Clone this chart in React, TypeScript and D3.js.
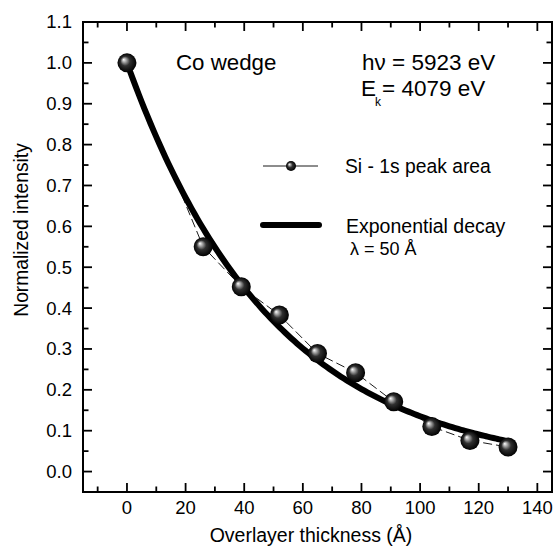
import React from "react";
import * as d3 from "d3";

const thickness = [0, 26, 39, 52, 65, 78, 91, 104, 117, 130];
const intensity = [1.0, 0.55, 0.452, 0.383, 0.289, 0.242, 0.171, 0.11, 0.076, 0.06];
const decayLength = 50;
const xTicks = [0, 20, 40, 60, 80, 100, 120, 140];
const yTicks = [0.0, 0.1, 0.2, 0.3, 0.4, 0.5, 0.6, 0.7, 0.8, 0.9, 1.0, 1.1];

const W = 556, H = 548;
const left = 83, right = 552, top = 22, bottom = 492;
const FONT = "Arial, 'Liberation Sans', Helvetica, sans-serif";

export default function App() {
  const x = d3.scaleLinear().domain([-15, 145]).range([left, right]);
  const y = d3.scaleLinear().domain([-0.05, 1.1]).range([bottom, top]);

  const curveX = d3.range(0, 130.01, 1);
  const curve = d3.line<number>().x((t) => x(t)).y((t) => y(Math.exp(-t / decayLength))).curve(d3.curveBasis)(curveX) || "";
  const dataLine = d3.line<number>().x((_, i) => x(thickness[i])).y((v) => y(v))(intensity) || "";

  const xMinor = d3.range(-10, 145, 10);
  const yMinor = d3.range(-0.05, 1.1001, 0.05).map((v) => Math.round(v * 100) / 100);

  const majorLen = 9, minorLen = 5.5;

  return (
    <svg width={W} height={H} style={{ position: "absolute", left: 0, top: 0, background: "#fff" }} fontFamily={FONT}>
      <defs>
        <radialGradient id="ball" cx="0.5" cy="0.5" r="0.5" fx="0.32" fy="0.32">
          <stop offset="0" stopColor="#ffffff" />
          <stop offset="0.15" stopColor="#c0c0c0" />
          <stop offset="0.5" stopColor="#303030" />
          <stop offset="1" stopColor="#000000" />
        </radialGradient>
      </defs>
      <rect x={0} y={0} width={W} height={H} fill="#fff" />

      {/* ticks */}
      {xMinor.map((t) => {
        const len = t % 20 === 0 ? majorLen : minorLen;
        return (
          <g key={"xt" + t} stroke="#000" strokeWidth={1.8}>
            <line x1={x(t)} x2={x(t)} y1={bottom} y2={bottom - len} />
            <line x1={x(t)} x2={x(t)} y1={top} y2={top + len} />
          </g>
        );
      })}
      {yMinor.map((v) => {
        const isMajor = Math.abs(Math.round(v * 10) - v * 10) < 1e-6;
        const len = isMajor ? majorLen : minorLen;
        return (
          <g key={"yt" + v} stroke="#000" strokeWidth={1.8}>
            <line x1={left} x2={left + len} y1={y(v)} y2={y(v)} />
            <line x1={right} x2={right - len} y1={y(v)} y2={y(v)} />
          </g>
        );
      })}

      <rect x={left} y={top} width={right - left} height={bottom - top} fill="none" stroke="#000" strokeWidth={2} />

      {/* tick labels */}
      {xTicks.map((t) => (
        <text key={"xl" + t} x={x(t)} y={514} textAnchor="middle" fontSize={18.5} fill="#000">{t}</text>
      ))}
      {yTicks.map((v) => (
        <text key={"yl" + v} x={72} y={y(v)} dy="0.35em" textAnchor="end" fontSize={18.5} fill="#000">{v.toFixed(1)}</text>
      ))}

      {/* axis titles */}
      <text x={311} y={542} textAnchor="middle" fontSize={19.5} fill="#000">Overlayer thickness (Å)</text>
      <text transform={`translate(28,230) rotate(-90)`} textAnchor="middle" fontSize={19.3} fill="#000">Normalized intensity</text>

      {/* data dashed line */}
      <path d={dataLine} fill="none" stroke="#000" strokeWidth={0.9} strokeDasharray="9,4" />
      {/* exponential curve */}
      <path d={curve} fill="none" stroke="#000" strokeWidth={6} strokeLinecap="round" />
      {/* markers */}
      {intensity.map((v, i) => (
        <circle key={"p" + i} cx={x(thickness[i])} cy={y(v)} r={9.5} fill="url(#ball)" />
      ))}

      {/* annotations */}
      <text x={176} y={70} fontSize={22.3} fill="#000">Co wedge</text>
      <text x={362} y={70} fontSize={22.5} fill="#000">hν = 5923 eV</text>
      <text x={361} y={96} fontSize={22.5} fill="#000">E</text>
      <text x={375} y={106} fontSize={12} fill="#000">k</text>
      <text x={382} y={96} fontSize={22.5} fill="#000">= 4079 eV</text>

      {/* legend */}
      <line x1={263} x2={318} y1={166} y2={166} stroke="#000" strokeWidth={0.9} />
      <circle cx={291} cy={166} r={5} fill="url(#ball)" />
      <text x={345} y={173} fontSize={19.3} fill="#000">Si - 1s peak area</text>
      <line x1={263} x2={319} y1={225} y2={225} stroke="#000" strokeWidth={6} strokeLinecap="round" />
      <text x={346} y={233} fontSize={19.5} fill="#000">Exponential decay</text>
      <text x={350} y={255} fontSize={18} fill="#000">λ = 50 Å</text>
    </svg>
  );
}
